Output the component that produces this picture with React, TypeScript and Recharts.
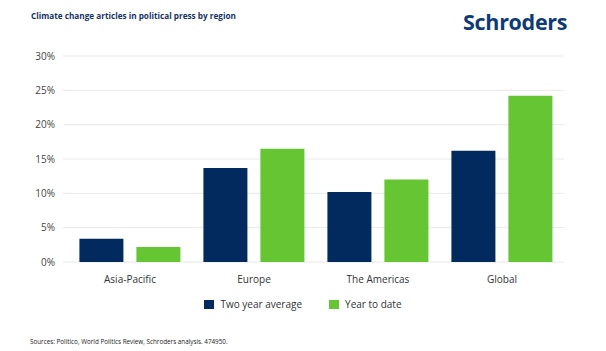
import { BarChart, Bar, XAxis, YAxis, CartesianGrid, Legend } from "recharts";

const REGIONS = ["Asia-Pacific", "Europe", "The Americas", "Global"];
const TWO_YEAR_AVG = [3.4, 13.7, 10.2, 16.2];
const YEAR_TO_DATE = [2.2, 16.5, 12.0, 24.2];
const Y_TICKS = [0, 5, 10, 15, 20, 25, 30];

const NAVY = "#022a5e";
const GREEN = "#66c533";
const FONT = "'Open Sans', sans-serif";

const data = REGIONS.map((region, i) => ({
  region,
  avg: TWO_YEAR_AVG[i],
  ytd: YEAR_TO_DATE[i],
}));

function LegendContent({ payload }: any) {
  return (
    <div style={{ display: "flex", justifyContent: "center", fontFamily: FONT, fontSize: 10, color: "#333" }}>
      {(payload || []).map((p: any, i: number) => (
        <div key={i} style={{ display: "flex", alignItems: "center", marginRight: i === 0 ? 27 : 0 }}>
          <span style={{ width: 10, height: 9, background: p.color, display: "inline-block", marginRight: 6 }} />
          <span>{p.value}</span>
        </div>
      ))}
    </div>
  );
}

export default function App() {
  return (
    <div style={{ position: "absolute", left: 0, top: 0, width: 606, height: 351, background: "#fff", fontFamily: FONT }}>
      <div style={{ position: "absolute", left: 31, top: 10, fontSize: 8.2, fontWeight: 700, color: "#15336a" }}>
        Climate change articles in political press by region
      </div>
      <div style={{ position: "absolute", left: 463, top: 7, fontSize: 21.5, fontWeight: 700, color: "#0e3a78", letterSpacing: -0.3 }}>
        Schroders
      </div>
      <BarChart
        width={606}
        height={351}
        data={data}
        margin={{ top: 56, right: 42, bottom: 59, left: 0 }}
        barCategoryGap="9.2%"
        barGap={13}
      >
        <CartesianGrid vertical={false} stroke="#e8e8e8" />
        <XAxis
          dataKey="region"
          height={30}
          padding={{ left: 5, right: 0 }}
          axisLine={false}
          tickLine={false}
          tickSize={0}
          tickMargin={14}
          tick={{ fontSize: 10, fill: "#333", fontFamily: FONT }}
        />
        <YAxis
          width={63}
          domain={[0, 30]}
          ticks={Y_TICKS}
          tickFormatter={(v: number) => `${v}%`}
          axisLine={false}
          tickLine={false}
          tickSize={0}
          tickMargin={8}
          tick={{ fontSize: 10, fill: "#444", fontFamily: FONT }}
        />
        <Legend
          layout="horizontal"
          verticalAlign="middle"
          content={<LegendContent />}
          wrapperStyle={{ top: 297, left: 0, width: 606 }}
        />
        <Bar dataKey="avg" name="Two year average" fill={NAVY} isAnimationActive={false} />
        <Bar dataKey="ytd" name="Year to date" fill={GREEN} isAnimationActive={false} />
      </BarChart>
      <div style={{ position: "absolute", left: 30, top: 337, fontSize: 6.3, color: "#222" }}>
        Sources: Politico, World Politics Review, Schroders analysis. 474950.
      </div>
    </div>
  );
}
